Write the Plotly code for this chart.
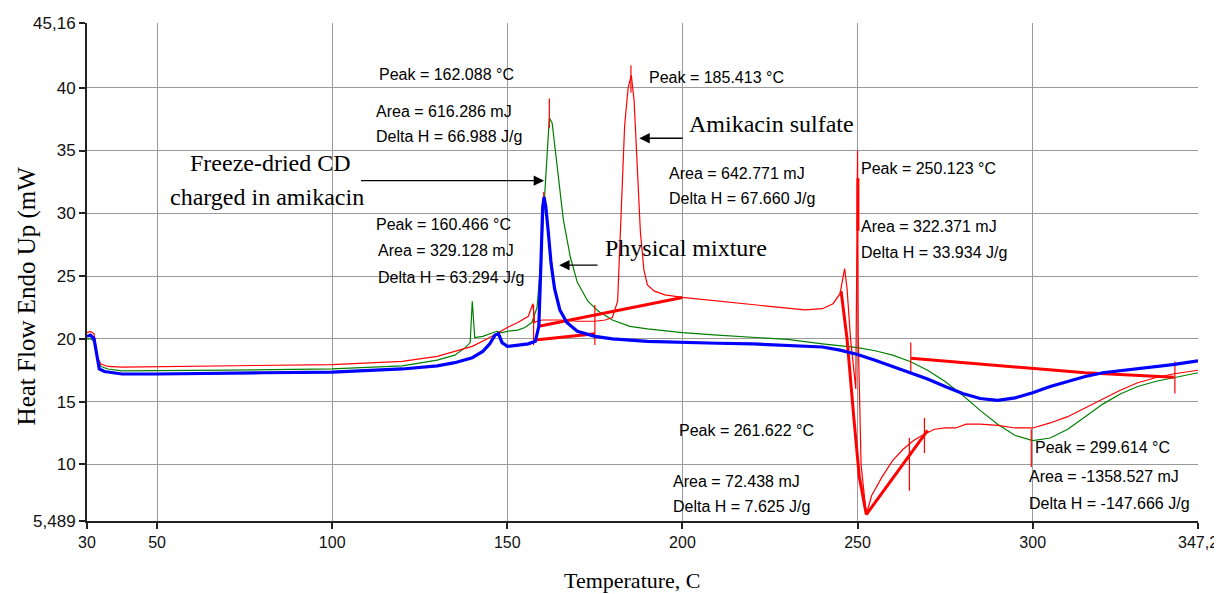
import plotly.graph_objects as go

# ---------------- data ----------------
blue_x = [30, 31, 32, 32.8, 33.5, 35, 40, 50, 60, 80, 100, 110, 120, 130, 135, 140, 143, 145, 146.5, 147.5,
          148.5, 150, 153, 156, 158, 159, 159.6, 160.1, 160.5, 161, 161.7, 162.5, 163.5, 165, 167, 170, 175,
          180, 190, 200, 210, 220, 230, 240, 245, 250, 255, 260, 265, 270, 275, 280, 285, 290, 295, 300,
          305, 310, 315, 320, 325, 330, 335, 340, 347.2]
blue_y = [20.2, 20.3, 20.0, 18.5, 17.6, 17.4, 17.2, 17.2, 17.25, 17.3, 17.35, 17.45, 17.6, 17.85, 18.1, 18.5,
          19.0, 19.6, 20.3, 20.4, 19.7, 19.4, 19.5, 19.6, 19.8, 21.0, 26.0, 30.5, 31.3, 30.5, 28.5, 26.0, 24.0,
          22.3, 21.3, 20.6, 20.2, 20.0, 19.8, 19.7, 19.65, 19.6, 19.5, 19.35, 19.1, 18.75, 18.3, 17.8, 17.3,
          16.8, 16.2, 15.65, 15.25, 15.1, 15.3, 15.7, 16.2, 16.6, 17.0, 17.3, 17.45, 17.6, 17.75, 17.95, 18.25]

green_x = [30, 31, 32, 33, 34, 36, 40, 50, 70, 100, 110, 120, 130, 135, 138, 139.4, 140.0, 140.7, 143, 145,
           147, 148.5, 150, 153, 155, 157, 158.5, 159.5, 160.5, 161.3, 162, 162.8, 163.5, 164.5, 166, 168, 170,
           173, 176, 180, 185, 190, 200, 210, 220, 230, 240, 245, 250, 255, 260, 265, 270, 275, 280, 285, 290,
           295, 300, 305, 310, 315, 320, 325, 330, 335, 340, 347.2]
green_y = [20.0, 20.0, 19.8, 18.3, 17.8, 17.6, 17.45, 17.45, 17.5, 17.6, 17.7, 17.85, 18.3, 18.7, 19.3, 19.7,
           23.0, 20.1, 20.2, 20.4, 20.6, 20.5, 20.6, 20.7, 20.9, 21.3, 22.5, 26.0, 31.0, 35.0, 37.6, 37.2, 35.5,
           33.0, 29.5, 26.5, 24.5, 23.0, 22.2, 21.5, 21.0, 20.8, 20.5, 20.3, 20.15, 19.95, 19.6, 19.45, 19.3,
           19.05, 18.7, 18.2, 17.5, 16.6, 15.5, 14.3, 13.2, 12.3, 11.9, 12.1, 12.8, 13.8, 14.8, 15.6, 16.2,
           16.6, 16.9, 17.3]

red_x = [30, 31, 32, 33, 34, 36, 40, 60, 100, 120, 130, 140, 145, 150, 153, 156, 157.3, 157.8, 158.5, 160,
         165, 170, 175, 178, 180, 181.5, 182.5, 183.5, 184.5, 185.4, 186.2, 187, 188, 189, 190, 192, 195, 200,
         210, 220, 230, 235, 240, 243, 245, 246.3, 247, 248, 249.5, 250.0, 250.2, 251, 252.5, 254, 257, 260,
         263, 266, 269, 272, 275, 278, 281, 285, 290, 295, 300, 305, 310, 315, 320, 325, 330, 335, 340, 347.2]
red_y = [20.5, 20.6, 20.4, 18.5, 18.0, 17.8, 17.75, 17.8, 17.95, 18.2, 18.6, 19.4, 20.1, 20.9, 21.3, 21.8,
         22.8, 21.3, 21.4, 21.5, 21.5, 21.4, 21.4, 21.5, 21.7, 23.0, 30.0, 37.0, 40.0, 41.0, 39.0, 34.0, 28.5,
         25.5, 24.3, 23.8, 23.5, 23.3, 23.0, 22.7, 22.4, 22.3, 22.4, 22.8, 23.6, 25.6, 24.0, 20.0, 16.0, 35.0,
         20.0, 10.0, 6.0, 7.5, 9.0, 10.3, 11.2, 11.9, 12.4, 12.8, 12.9, 12.9, 13.2, 13.2, 13.1, 12.9, 12.9,
         13.3, 13.8, 14.5, 15.2, 15.9, 16.5, 16.9, 17.2, 17.5]

# thick red integration baselines / curve sections
red_thick_sets = [
    ([158.0, 175.0], [19.9, 20.4]),
    ([159.0, 200.0], [21.0, 23.3]),
    ([245.3, 247.0, 249.0, 250.5, 252.5], [23.8, 20.0, 13.5, 9.0, 6.0]),
    ([252.5, 270.0], [6.0, 12.7]),
    ([250.1, 250.1], [28.6, 32.8]),
    ([265.3, 290.0, 315.0, 340.3], [18.45, 17.9, 17.3, 16.95]),
]

# thin red peak / limit markers (x, y_low, y_high)
marker_x = [162.0, 160.4, 185.3, 157.5, 175.0, 264.8, 269.1, 265.2, 340.6, 299.6]
marker_lo = [36.8, 31.2, 39.6, 19.5, 19.5, 7.9, 10.9, 17.3, 15.65, 9.8]
marker_hi = [39.15, 31.7, 41.8, 22.7, 22.7, 12.1, 13.7, 19.7, 18.2, 12.8]

x_ticks = [30, 50, 100, 150, 200, 250, 300, 347.2]
x_tick_text = ["30", "50", "100", "150", "200", "250", "300", "347,2"]
y_ticks = [5.489, 10, 15, 20, 25, 30, 35, 40, 45.16]
y_tick_text = ["5,489", "10", "15", "20", "25", "30", "35", "40", "45,16"]

# peak / area / delta-H texts: (text, x, y)
info_texts = [
    ("Peak = 162.088 °C", 112.9, 41.08),
    ("Area = 616.286 mJ", 111.8, 38.13),
    ("Delta H = 66.988 J/g", 111.8, 36.14),
    ("Peak = 160.466 °C", 111.8, 29.13),
    ("Area = 329.128 mJ", 112.4, 27.06),
    ("Delta H = 63.294 J/g", 112.4, 24.91),
    ("Peak = 185.413 °C", 190.0, 40.84),
    ("Area = 642.771 mJ", 195.7, 33.19),
    ("Delta H = 67.660 J/g", 195.7, 31.2),
    ("Peak = 250.123 °C", 250.5, 33.59),
    ("Area = 322.371 mJ", 250.5, 28.97),
    ("Delta H = 33.934 J/g", 250.5, 26.9),
    ("Peak = 261.622 °C", 198.5, 12.73),
    ("Area = 72.438 mJ", 196.8, 8.67),
    ("Delta H = 7.625 J/g", 196.8, 6.68),
    ("Peak = 299.614 °C", 300.1, 11.38),
    ("Area = -1358.527 mJ", 298.4, 9.0),
    ("Delta H = -147.666 J/g", 298.4, 6.92),
]

# sample labels: (text, x, y) and arrows: (tail x, head x, y)
sample_labels = [
    ("Freeze-dried CD", 58.8, 33.97),
    ("charged in amikacin", 53.1, 31.27),
    ("Amikacin sulfate", 201.3, 37.1),
    ("Physical mixture", 177.2, 27.2),
]
arrows = [
    (107.8, 160.5, 32.6),
    (200.5, 187.7, 35.98),
    (176.2, 164.8, 25.87),
]

# ---------------- figure ----------------
fig = go.Figure()

fig.add_trace(go.Scatter(x=green_x, y=green_y, mode="lines",
                         line=dict(color="#008000", width=1.2), hoverinfo="skip"))
fig.add_trace(go.Scatter(x=red_x, y=red_y, mode="lines",
                         line=dict(color="#ff0000", width=1.2), hoverinfo="skip"))
for xs, ys in red_thick_sets:
    fig.add_trace(go.Scatter(x=xs, y=ys, mode="lines",
                             line=dict(color="#ff0000", width=3), hoverinfo="skip"))
for mx, lo, hi in zip(marker_x, marker_lo, marker_hi):
    fig.add_trace(go.Scatter(x=[mx, mx], y=[lo, hi], mode="lines",
                             line=dict(color="#ff0000", width=1.2), hoverinfo="skip"))
fig.add_trace(go.Scatter(x=blue_x, y=blue_y, mode="lines",
                         line=dict(color="#0000ff", width=3.2), hoverinfo="skip"))

annotations = []
for t, x, y in info_texts:
    annotations.append(dict(x=x, y=y, xref="x", yref="y", text=t, showarrow=False,
                            xanchor="left", yanchor="middle",
                            font=dict(family="Liberation Sans, Arial", size=16, color="#000")))
for t, x, y in sample_labels:
    annotations.append(dict(x=x, y=y, xref="x", yref="y", text=t, showarrow=False,
                            xanchor="left", yanchor="middle",
                            font=dict(family="Liberation Serif, Times New Roman", size=24, color="#000")))
for tail, head, y in arrows:
    annotations.append(dict(x=head, y=y, ax=tail, ay=y, xref="x", yref="y", axref="x", ayref="y",
                            text="", showarrow=True, arrowhead=2, arrowsize=1.6, arrowwidth=1.3,
                            arrowcolor="#000"))
annotations.append(dict(x=-0.054, y=0.451, xref="paper", yref="paper", text="Heat Flow Endo Up (mW",
                        textangle=-90, showarrow=False, xanchor="center", yanchor="middle",
                        font=dict(family="Liberation Serif, Times New Roman", size=25, color="#000")))
annotations.append(dict(x=0.491, y=-0.120, xref="paper", yref="paper", text="Temperature, C",
                        showarrow=False, xanchor="center", yanchor="middle",
                        font=dict(family="Liberation Serif, Times New Roman", size=22, color="#000")))

# page body adds an 8 px offset, so the figure is 8 px smaller and margins shifted
fig.update_layout(
    width=1214, height=586,
    margin=dict(l=79, r=24, t=15, b=73, autoexpand=False),
    paper_bgcolor="white", plot_bgcolor="white",
    showlegend=False,
    annotations=annotations,
    xaxis=dict(range=[30, 347.2], tickvals=x_ticks, ticktext=x_tick_text, automargin=False,
               showgrid=True, gridcolor="#9a9a9a", gridwidth=1,
               showline=True, linecolor="#222", linewidth=2,
               ticks="outside", ticklen=6, tickcolor="#222", tickwidth=1.5,
               zeroline=False,
               tickfont=dict(family="Liberation Sans, Arial", size=16, color="#111")),
    yaxis=dict(range=[5.489, 45.16], tickvals=y_ticks, ticktext=y_tick_text, automargin=False,
               showgrid=True, gridcolor="#9a9a9a", gridwidth=1,
               showline=True, linecolor="#222", linewidth=2,
               ticks="outside", ticklen=6, tickcolor="#222", tickwidth=1.5,
               zeroline=False,
               tickfont=dict(family="Liberation Sans, Arial", size=17, color="#111")),
)

fig.write_html("out.html")
